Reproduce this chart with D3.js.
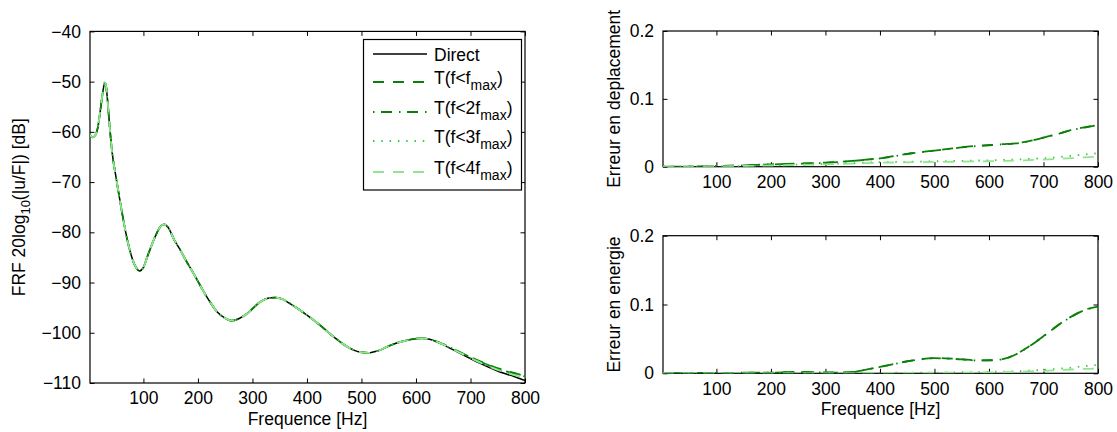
<!DOCTYPE html>
<html><head><meta charset="utf-8">
<script src="https://cdn.jsdelivr.net/npm/d3@7"></script>
<style>
html,body{margin:0;padding:0;background:#fff;}
text{font-family:"Liberation Sans",Arial,Helvetica,sans-serif;fill:#000;}
</style></head>
<body><svg id="chart" width="1117" height="432"></svg>
<script>
// ---------- DATA ----------
const seriesNames = ["Direct", "T(f<fmax)", "T(f<2fmax)", "T(f<3fmax)", "T(f<4fmax)"];
const xTickValues = [100, 200, 300, 400, 500, 600, 700, 800];
const frfTickValues = [-110, -100, -90, -80, -70, -60, -50, -40];
const errTickValues = [0, 0.1, 0.2];
const errTickLabels = ["0", "0.1", "0.2"];

const frfFreq   = [2, 7, 12, 16, 20, 25, 29, 31, 34, 37, 42, 50, 59, 71, 84, 93, 100, 108, 123, 131, 138, 145, 157, 167, 178, 192, 216, 235, 250, 262, 275, 290, 314, 330, 342, 355, 369, 400, 424, 449, 479, 495, 513, 530, 553, 583, 611, 625, 644, 681, 718, 754, 780, 800];
const frfDirect = [-60.6, -61.1, -60.6, -59.3, -56.5, -52.5, -50.2, -50.6, -53.5, -57.5, -63.5, -69.2, -75.0, -81.8, -86.5, -87.7, -87.0, -84.6, -80.5, -78.9, -78.4, -79.0, -81.6, -83.4, -85.6, -88.2, -92.8, -95.8, -97.1, -97.6, -97.2, -96.2, -93.9, -93.1, -93.0, -93.3, -94.2, -96.5, -98.5, -100.8, -103.1, -103.8, -104.0, -103.6, -102.5, -101.5, -101.1, -101.3, -102.1, -104.1, -106.1, -107.8, -108.7, -109.5];
const frfT1     = [-60.6, -61.1, -60.6, -59.3, -56.5, -52.5, -50.2, -50.6, -53.5, -57.5, -63.5, -69.2, -75.0, -81.8, -86.5, -87.7, -87.0, -84.6, -80.5, -78.9, -78.4, -79.0, -81.6, -83.4, -85.6, -88.2, -92.8, -95.8, -97.1, -97.6, -97.2, -96.2, -93.9, -93.1, -93.0, -93.3, -94.2, -96.5, -98.5, -100.8, -103.1, -103.8, -104.0, -103.6, -102.5, -101.5, -101.1, -101.3, -102.0, -103.9, -105.7, -107.2, -108.0, -108.6];
const frfT2     = [-60.6, -61.1, -60.6, -59.3, -56.5, -52.5, -50.2, -50.6, -53.5, -57.5, -63.5, -69.2, -75.0, -81.8, -86.5, -87.7, -87.0, -84.6, -80.5, -78.9, -78.4, -79.0, -81.6, -83.4, -85.6, -88.2, -92.8, -95.8, -97.1, -97.6, -97.2, -96.2, -93.9, -93.1, -93.0, -93.3, -94.2, -96.5, -98.5, -100.8, -103.1, -103.8, -104.0, -103.6, -102.5, -101.5, -101.1, -101.3, -102.0, -103.9, -105.75, -107.3, -108.1, -108.7];
const frfT3     = [-60.6, -61.1, -60.6, -59.3, -56.5, -52.5, -50.2, -50.6, -53.5, -57.5, -63.5, -69.2, -75.0, -81.8, -86.5, -87.7, -87.0, -84.6, -80.5, -78.9, -78.4, -79.0, -81.6, -83.4, -85.6, -88.2, -92.8, -95.8, -97.1, -97.6, -97.2, -96.2, -93.9, -93.1, -93.0, -93.3, -94.2, -96.5, -98.5, -100.8, -103.1, -103.8, -104.0, -103.6, -102.5, -101.5, -101.1, -101.3, -102.05, -104.0, -105.9, -107.5, -108.3, -109.0];
const frfT4     = [-60.6, -61.1, -60.6, -59.3, -56.5, -52.5, -50.2, -50.6, -53.5, -57.5, -63.5, -69.2, -75.0, -81.8, -86.5, -87.7, -87.0, -84.6, -80.5, -78.9, -78.4, -79.0, -81.6, -83.4, -85.6, -88.2, -92.8, -95.8, -97.1, -97.6, -97.2, -96.2, -93.9, -93.1, -93.0, -93.3, -94.2, -96.5, -98.5, -100.8, -103.1, -103.8, -104.0, -103.6, -102.5, -101.5, -101.1, -101.3, -102.05, -104.0, -105.95, -107.55, -108.4, -109.1];

const errFreq = [2, 50, 100, 150, 200, 250, 300, 325, 350, 375, 400, 425, 450, 475, 500, 525, 550, 575, 600, 625, 650, 675, 700, 725, 750, 775, 800];
const depT1 = [0, 0.0003, 0.001, 0.002, 0.0035, 0.0045, 0.006, 0.0072, 0.0087, 0.0104, 0.0125, 0.0155, 0.019, 0.0215, 0.0238, 0.0262, 0.0287, 0.0305, 0.0318, 0.0332, 0.0345, 0.038, 0.043, 0.048, 0.054, 0.058, 0.062];
const depT2 = [0, 0.0003, 0.001, 0.002, 0.0034, 0.0044, 0.0058, 0.007, 0.0085, 0.0102, 0.0122, 0.0152, 0.0187, 0.0213, 0.0236, 0.026, 0.0285, 0.0303, 0.0316, 0.033, 0.0343, 0.0378, 0.0428, 0.0478, 0.0537, 0.0577, 0.0615];
const depT3 = [0, 0.0002, 0.0005, 0.001, 0.002, 0.003, 0.004, 0.0045, 0.005, 0.006, 0.0066, 0.0069, 0.0072, 0.0076, 0.008, 0.0083, 0.0086, 0.009, 0.0095, 0.01, 0.0105, 0.0115, 0.0125, 0.014, 0.016, 0.018, 0.0198];
const depT4 = [0, 0.0002, 0.0005, 0.001, 0.0018, 0.0026, 0.0035, 0.004, 0.0045, 0.0052, 0.0058, 0.0062, 0.0065, 0.0068, 0.007, 0.0072, 0.0075, 0.0078, 0.008, 0.0085, 0.009, 0.0097, 0.0105, 0.0115, 0.0125, 0.0138, 0.015];
const eneT1 = [0, 0.0004, 0.0006, 0.0008, 0.001, 0.002, 0.0012, 0.0012, 0.002, 0.0055, 0.0095, 0.0135, 0.0175, 0.0205, 0.0222, 0.0215, 0.0205, 0.0188, 0.019, 0.0205, 0.028, 0.040, 0.054, 0.069, 0.082, 0.092, 0.097];
const eneT2 = [0, 0.0004, 0.0006, 0.0008, 0.001, 0.0018, 0.0011, 0.0011, 0.0019, 0.0052, 0.0092, 0.0132, 0.0172, 0.0202, 0.022, 0.0213, 0.0203, 0.0186, 0.0188, 0.0203, 0.0277, 0.0397, 0.0537, 0.0687, 0.0817, 0.0917, 0.0967];
const eneT3 = [0, 0, 0, 0, 0, 0, 0, 0, 0, 0, 0.0005, 0.0008, 0.001, 0.001, 0.001, 0.0012, 0.0015, 0.0018, 0.002, 0.0025, 0.003, 0.004, 0.005, 0.0065, 0.008, 0.0105, 0.012];
const eneT4 = [0, 0, 0, 0, 0, 0, 0, 0, 0, 0, 0.0003, 0.0005, 0.0006, 0.0007, 0.0008, 0.0009, 0.001, 0.0011, 0.0012, 0.0015, 0.002, 0.0028, 0.0035, 0.0045, 0.0055, 0.0065, 0.007];

// ---------- STYLES ----------
const styles = [
  {color: "#000000", dash: null, width: 1.5},
  {color: "#0a800a", dash: "11,9", width: 1.8},
  {color: "#0a800a", dash: "1.5,6.5,11,7", width: 1.8},
  {color: "#3ccc3c", dash: "1.5,6.8", width: 1.8},
  {color: "#8fe68f", dash: "11,9", width: 1.8}
];

const svg = d3.select("#chart");
const FS = 17.5;

function panel(id, xr, yr, ydom, yTicks, yFmt, showXLabel, ylabelParts, ylabelX) {
  const x = d3.scaleLinear().domain([2, 800]).range(xr);
  const y = d3.scaleLinear().domain(ydom).range(yr);
  const g = svg.append("g");
  g.append("clipPath").attr("id", id).append("rect")
    .attr("x", xr[0]).attr("y", yr[1]).attr("width", xr[1] - xr[0]).attr("height", yr[0] - yr[1]);
  const tl = 4.5;
  // bottom axis
  const xb = d3.axisBottom(x).tickValues(xTickValues).tickSize(-tl).tickSizeOuter(0).tickFormat(d3.format("d")).tickPadding(9);
  g.append("g").attr("transform", `translate(0,${yr[0]})`).call(xb);
  const xt = d3.axisTop(x).tickValues(xTickValues).tickSize(-tl).tickSizeOuter(0).tickFormat("");
  g.append("g").attr("transform", `translate(0,${yr[1]})`).call(xt);
  const yl = d3.axisLeft(y).tickValues(yTicks).tickSize(-tl).tickSizeOuter(0).tickFormat(yFmt).tickPadding(9);
  g.append("g").attr("transform", `translate(${xr[0]},0)`).call(yl);
  const yrr = d3.axisRight(y).tickValues(yTicks).tickSize(-tl).tickSizeOuter(0).tickFormat("");
  g.append("g").attr("transform", `translate(${xr[1]},0)`).call(yrr);
  g.selectAll(".domain").remove();
  g.selectAll(".tick line").attr("stroke", "#000").attr("stroke-width", 1);
  g.selectAll(".tick text").attr("font-size", FS).attr("font-family", "Liberation Sans, Arial, sans-serif").attr("fill", "#000");
  g.append("rect").attr("x", xr[0]).attr("y", yr[1]).attr("width", xr[1] - xr[0]).attr("height", yr[0] - yr[1])
    .attr("fill", "none").attr("stroke", "#000").attr("stroke-width", 1.2);
  if (showXLabel) {
    g.append("text").attr("x", (xr[0] + xr[1]) / 2).attr("y", yr[0] + 42)
      .attr("text-anchor", "middle").attr("font-size", FS).text("Frequence [Hz]");
  }
  const yc = (yr[0] + yr[1]) / 2;
  const t = g.append("text").attr("transform", `translate(${ylabelX},${yc}) rotate(-90)`)
    .attr("text-anchor", "middle").attr("font-size", FS);
  ylabelParts.forEach(p => {
    const ts = t.append("tspan").text(p.t);
    if (p.sub) ts.attr("font-size", 13).attr("dy", 5);
    if (p.back) ts.attr("dy", -5);
  });
  return {x, y, g, clip: id};
}

function drawLines(p, freq, arrays) {
  const line = d3.line().x((d, i) => p.x(freq[i])).y(d => p.y(d)).curve(d3.curveMonotoneX);
  const lg = p.g.append("g").attr("clip-path", `url(#${p.clip})`);
  arrays.forEach(a => {
    if (!a.vals) return;
    const s = styles[a.s];
    lg.append("path").datum(a.vals).attr("d", line).attr("fill", "none")
      .attr("stroke", s.color).attr("stroke-width", s.width)
      .attr("stroke-dasharray", s.dash).attr("stroke-linejoin", "round");
  });
}

const minus = d => (d < 0 ? "\u2212" + Math.abs(d) : String(d));

// Left FRF panel
const pL = panel("clipL", [90, 525], [383, 31.4], [-110, -40], frfTickValues, minus, true,
  [{t: "FRF 20log"}, {t: "10", sub: true}, {t: "(|u/F|) [dB]", back: true}], 25);
drawLines(pL, frfFreq, [{s: 0, vals: frfDirect}, {s: 1, vals: frfT1}, {s: 2, vals: frfT2}, {s: 3, vals: frfT3}, {s: 4, vals: frfT4}]);

// Top right
const pT = panel("clipT", [663, 1098], [166.7, 31], [0, 0.2], errTickValues, (d, i) => errTickLabels[i], false,
  [{t: "Erreur en deplacement"}], 620);
drawLines(pT, errFreq, [{s: 1, vals: depT1}, {s: 2, vals: depT2}, {s: 3, vals: depT3}, {s: 4, vals: depT4}]);

// Bottom right
const pB = panel("clipB", [663, 1098], [373.3, 235.7], [0, 0.2], errTickValues, (d, i) => errTickLabels[i], true,
  [{t: "Erreur en energie"}], 620);
drawLines(pB, errFreq, [{s: 1, vals: eneT1}, {s: 2, vals: eneT2}, {s: 3, vals: eneT3}, {s: 4, vals: eneT4}]);

// Legend
const leg = svg.append("g");
leg.append("rect").attr("x", 363.5).attr("y", 39.5).attr("width", 158).attr("height", 150.5)
  .attr("fill", "#fff").attr("stroke", "#000").attr("stroke-width", 1.2);
const rowLineY = [54, 82, 112, 141, 172];
const rowTextY = [61, 84, 114, 143, 174];
const legLabels = [
  [{t: "Direct"}],
  [{t: "T(f<f"}, {t: "max", sub: true}, {t: ")", back: true}],
  [{t: "T(f<2f"}, {t: "max", sub: true}, {t: ")", back: true}],
  [{t: "T(f<3f"}, {t: "max", sub: true}, {t: ")", back: true}],
  [{t: "T(f<4f"}, {t: "max", sub: true}, {t: ")", back: true}]
];
seriesNames.forEach((name, i) => {
  const s = styles[i];
  leg.append("line").attr("x1", 373).attr("x2", 427).attr("y1", rowLineY[i]).attr("y2", rowLineY[i])
    .attr("stroke", s.color).attr("stroke-width", s.width).attr("stroke-dasharray", s.dash);
  const t = leg.append("text").attr("x", 434).attr("y", rowTextY[i]).attr("font-size", FS);
  legLabels[i].forEach(p => {
    const ts = t.append("tspan").text(p.t);
    if (p.sub) ts.attr("font-size", 14).attr("dy", 6);
    if (p.back) ts.attr("dy", -6).attr("font-size", FS);
  });
});
</script></body></html>
